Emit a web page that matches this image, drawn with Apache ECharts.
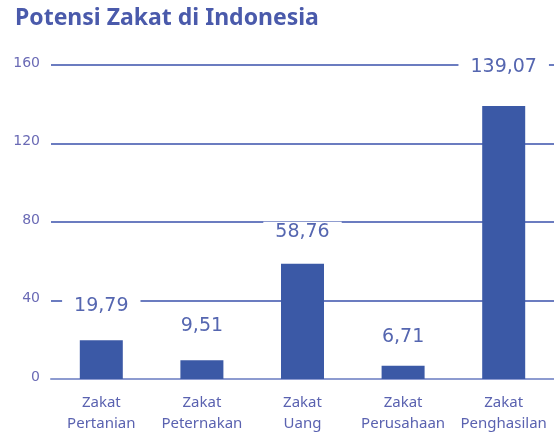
<html lang="id">
  <head>
    <meta charset="UTF-8" />
    <title>Potensi Zakat di Indonesia</title>
    <style>
      html, body { margin: 0; padding: 0; background: #fff; }
    </style>
  </head>
  <body>
    <div id="main" style="width: 554px; height: 438px"></div>

    <script src="https://cdn.jsdelivr.net/npm/echarts@6/dist/echarts.min.js"></script>
    <script>
      const categories = [
        'Zakat\nPertanian',
        'Zakat\nPeternakan',
        'Zakat\nUang',
        'Zakat\nPerusahaan',
        'Zakat\nPenghasilan'
      ]
      const values = [19.79, 9.51, 58.76, 6.71, 139.07]
      const yTicks = [0, 40, 80, 120, 160]

      // jarak label dari puncak batang (layout saja)
      const labelGaps = [24, 24, 22, 19, 29]

      const blue = '#3b59a6'
      const textBlue = '#5566b0'

      let mCharts = echarts.init(document.querySelector('#main'))
      let option = {
        animation: false,
        title: {
          text: 'Potensi Zakat di Indonesia',
          left: 10,
          top: 2,
          textStyle: {
            fontFamily: 'Noto Sans',
            fontWeight: 'bold',
            fontSize: 23,
            color: '#4a5aab'
          }
        },
        grid: { left: 51, right: -2, top: 65, bottom: 59 },
        xAxis: {
          type: 'category',
          data: categories,
          axisTick: { show: false },
          axisLine: { lineStyle: { color: '#8d9bd0', width: 2 } },
          axisLabel: {
            margin: 13,
            fontFamily: 'Noto Sans',
            fontSize: 15,
            lineHeight: 21,
            color: '#5a62b0',
            interval: 0
          }
        },
        yAxis: {
          type: 'value',
          min: yTicks[0],
          max: yTicks[yTicks.length - 1],
          interval: yTicks[1] - yTicks[0],
          axisLine: { show: false },
          axisTick: { show: false },
          axisLabel: {
            margin: 11,
            fontFamily: 'DejaVu Sans',
            fontSize: 14,
            color: '#6a6ab5',
            verticalAlign: 'bottom',
            padding: [0, 0, -5, 0]
          },
          splitLine: { lineStyle: { color: '#6b7cc0', width: 2 } }
        },
        series: [
          {
            type: 'bar',
            barWidth: 43,
            itemStyle: { color: blue },
            data: values.map((v, i) => ({
              value: v,
              label: { distance: labelGaps[i] }
            })),
            label: {
              show: true,
              position: 'top',
              fontFamily: 'DejaVu Sans',
              fontSize: 19,
              lineHeight: 20,
              color: textBlue,
              backgroundColor: '#fff',
              padding: [0, 12],
              formatter: (p) => p.value.toFixed(2).replace('.', ',')
            }
          }
        ]
      }
      mCharts.setOption(option)
    </script>
  </body>
</html>
